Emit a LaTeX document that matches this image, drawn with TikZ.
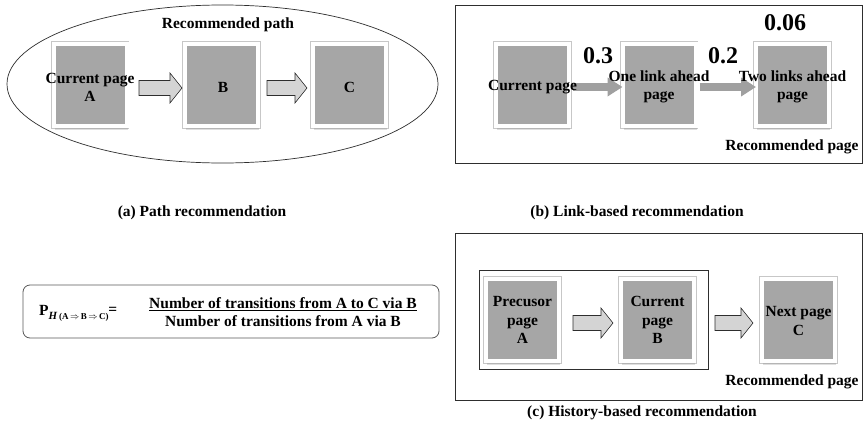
\documentclass[tikz,border=0pt]{standalone}
\usepackage{fontspec}
\setmainfont{Liberation Serif}
\usetikzlibrary{shapes.geometric,shadows,calc,arrows.meta}
\definecolor{pagegray}{HTML}{A6A6A6}
\definecolor{arrowfill}{HTML}{D4D4D4}
\definecolor{linkgray}{HTML}{A0A0A0}
\definecolor{framecol}{HTML}{2E2E2E}
\tikzset{
  every node/.style={font=\fontsize{15.5}{18.5}\selectfont\bfseries, inner sep=0pt, align=center},
  pagebox/.style={fill=pagegray, draw=white, line width=4pt, minimum width=73pt, minimum height=82pt,
     preaction={draw=black!22, line width=5.6pt},
     drop shadow={opacity=0.25, shadow xshift=1.2pt, shadow yshift=-3.5pt}},
  barrowstyle/.style={draw=framecol, fill=arrowfill, line width=0.6pt, line join=miter},
  pics/barrow/.style={code={
     \draw[barrowstyle] (-#1/2,-7.5) -- (#1/2-12,-7.5) -- (#1/2-12,-15) -- (#1/2,0)
        -- (#1/2-12,15) -- (#1/2-12,7.5) -- (-#1/2,7.5) -- cycle;}},
  linkarr/.style={draw=linkgray, line width=8.5pt, -{Triangle[length=15pt,width=18pt]}, shorten >=-2pt},
  panelbox/.style={draw=framecol, line width=0.8pt},
  bignum/.style={font=\fontsize{24}{28}\selectfont\bfseries},
}
\begin{document}
\begin{tikzpicture}[x=1pt,y=-1pt]
\useasboundingbox (0,0) rectangle (863,434);
\fill[white] (0,0) rectangle (863,434);

% ---------- (a) ----------
\node[draw=framecol, line width=0.7pt, ellipse, minimum width=431pt, minimum height=158pt] (ell) at (222.5,84) {};
\node (rp) at (228,25) {Recommended path};
\node[pagebox] (aA) at (90,85) {};
\node[pagebox] (aB) at (221.5,85) {};
\node[pagebox] (aC) at (349.5,85) {};
\node (tA) at (90,87.5) {Current page\\A};
\node (tB) at (223,87) {B};
\node (tC) at (349.5,87) {C};
\pic (ar1) at (160.5,88) {barrow=43};
\pic (ar2) at (287,88) {barrow=40};
\node (capa) at (202,213) {(a) Path recommendation};

% ---------- (b) ----------
\draw[panelbox] (455,5) rectangle (862.5,163);
\node[pagebox] (b1) at (532.5,85) {};
\node[pagebox] (b2) at (659,85) {};
\node[pagebox] (b3) at (792.5,85) {};
\draw[linkarr] ($(b1.east)+(2,2)$) -- ($(b2.west)+(0,2)$);
\draw[linkarr] ($(b2.east)+(2,2)$) -- ($(b3.west)+(0,2)$);
\node (t1) at (532.5,87) {Current page};
\node (t2) at (659,87) {One link ahead\\page};
\node (t3) at (792.5,87) {Two links ahead\\page};
\node[bignum] (n1) at (598,56) {0.3};
\node[bignum] (n2) at (723,56) {0.2};
\node[bignum] (n3) at (785,23) {0.06};
\node (recb) at (792,147) {Recommended page};
\node (capb) at (637,213) {(b) Link-based recommendation};

% ---------- formula ----------
\draw[draw=framecol!80, line width=0.8pt, rounded corners=7pt] (23,285) rectangle (439,338);
\node[anchor=west] (P) at (39,313) {P\raisebox{-4pt}{\fontsize{9}{10}\selectfont\textit{\fontsize{11}{11}\selectfont H}\,(A\,$\Rightarrow$\,B\,$\Rightarrow$\,C)}\raisebox{1pt}{=}};
\node (frac) at (283,312) {\underline{Number of transitions from A to C via B}\\Number of transitions from A via B};

% ---------- (c) ----------
\draw[panelbox] (455,233) rectangle (862.5,400);
\draw[panelbox] (479,270) rectangle (708,369);
\node[pagebox] (cA) at (522.5,320) {};
\node[pagebox] (cB) at (657.5,320) {};
\node[pagebox] (cC) at (798.5,320) {};
\node (tcA) at (522.5,320) {Precusor\\page\\A};
\node (tcB) at (657.5,320) {Current\\page\\B};
\node (tcC) at (798.5,321) {Next page\\C};
\pic (ar3) at (593,323) {barrow=40};
\pic (ar4) at (734,323) {barrow=38};
\node (recc) at (792,382) {Recommended page};
\node (capc) at (642,413) {(c) History-based recommendation};
\end{tikzpicture}
\end{document}
